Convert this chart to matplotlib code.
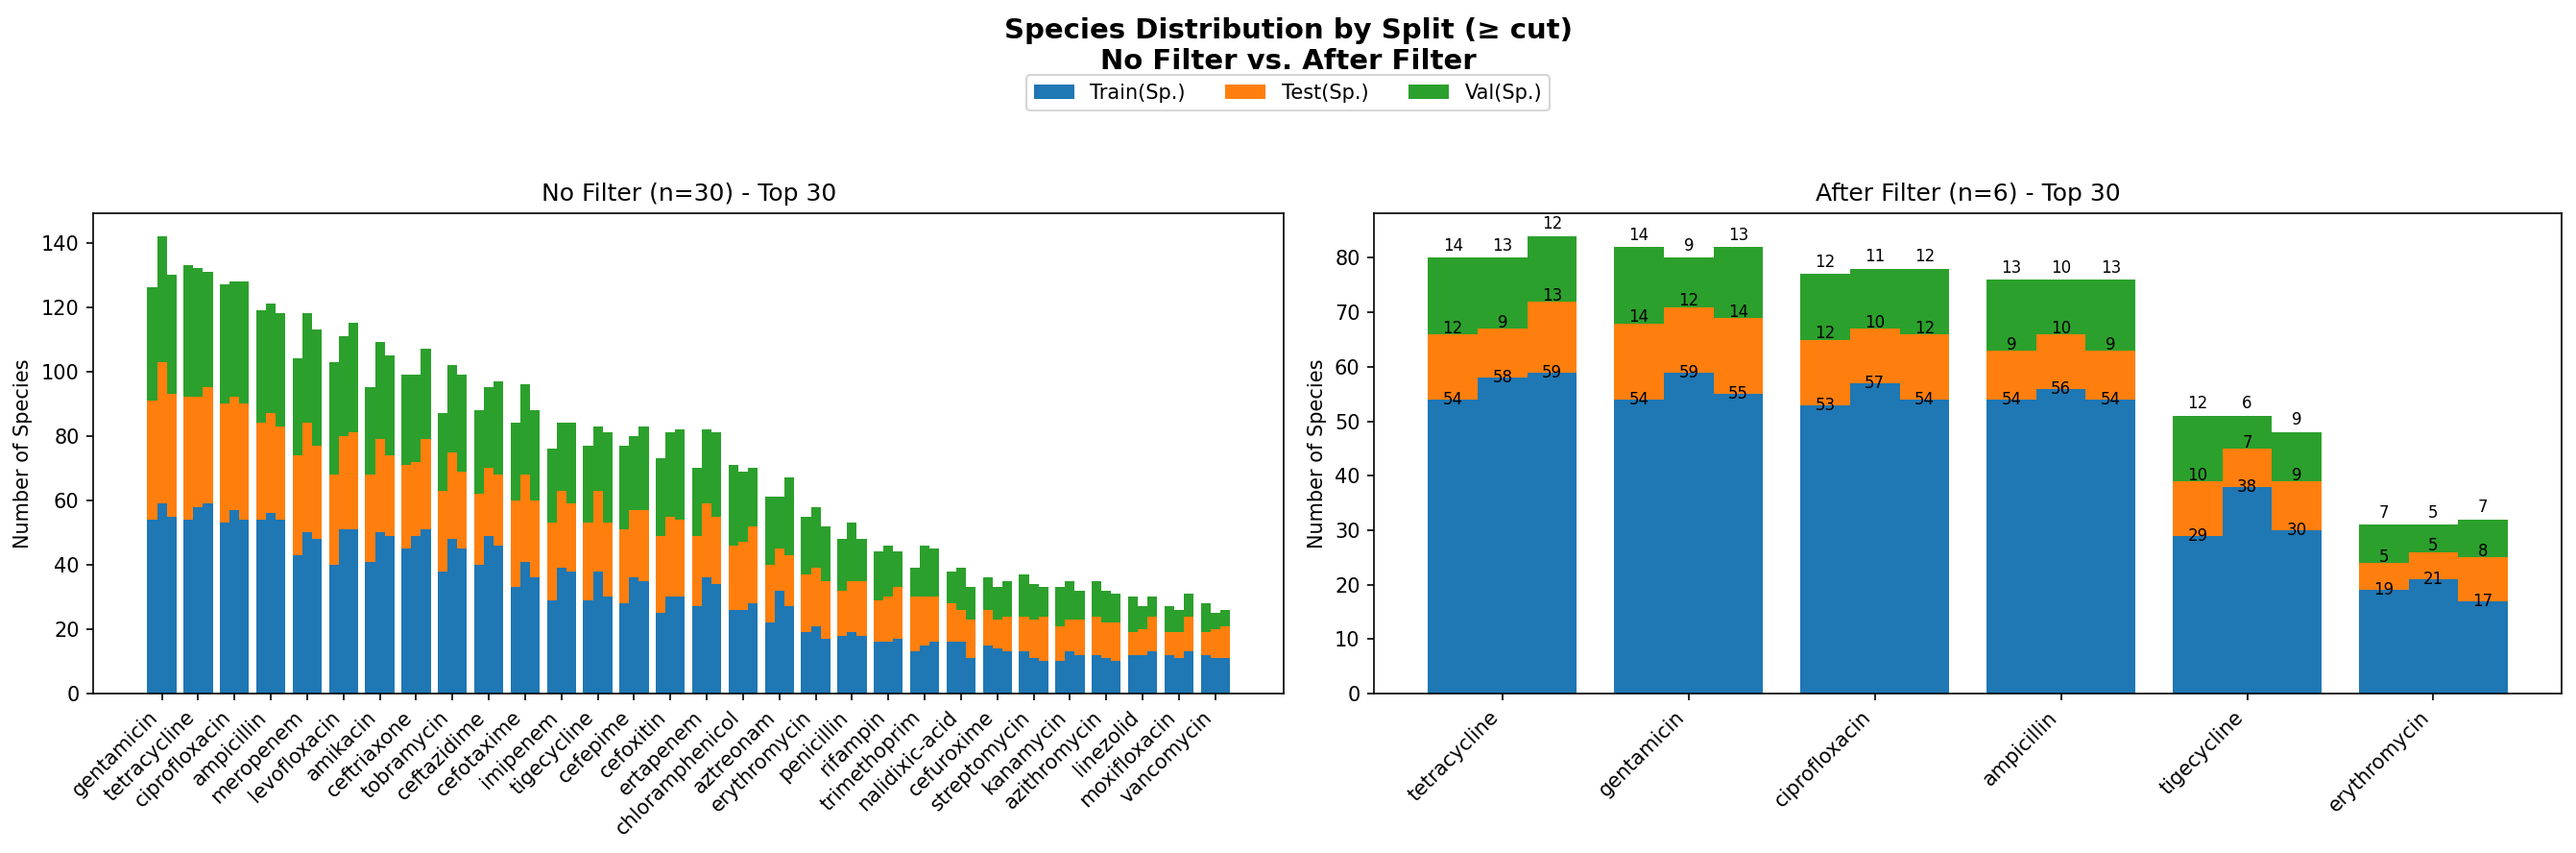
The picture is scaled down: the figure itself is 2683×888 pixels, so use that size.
import numpy as np
import matplotlib
matplotlib.use("Agg")
import matplotlib.pyplot as plt

# --- No Filter panel: 30 antibiotics, three split runs each ---
nf_labels = ["gentamicin", "tetracycline", "ciprofloxacin", "ampicillin", "meropenem",
             "levofloxacin", "amikacin", "ceftriaxone", "tobramycin", "ceftazidime",
             "cefotaxime", "imipenem", "tigecycline", "cefepime", "cefoxitin",
             "ertapenem", "chloramphenicol", "aztreonam", "erythromycin", "penicillin",
             "rifampin", "trimethoprim", "nalidixic-acid", "cefuroxime", "streptomycin",
             "kanamycin", "azithromycin", "linezolid", "moxifloxacin", "vancomycin"]

nf_train = [[54, 59, 55], [54, 58, 59], [53, 57, 54], [54, 56, 54], [43, 50, 48],
            [40, 51, 51], [41, 50, 49], [45, 49, 51], [38, 48, 45], [40, 49, 46],
            [33, 41, 36], [29, 39, 38], [29, 38, 30], [28, 36, 35], [25, 30, 30],
            [27, 36, 34], [26, 26, 28], [22, 32, 27], [19, 21, 17], [18, 19, 18],
            [16, 16, 17], [13, 15, 16], [16, 16, 11], [15, 14, 13], [13, 11, 10],
            [10, 13, 12], [12, 11, 10], [12, 12, 13], [12, 11, 13], [12, 11, 11]]

nf_test = [[37, 44, 38], [38, 34, 36], [37, 35, 36], [30, 31, 29], [31, 34, 29],
           [28, 29, 30], [27, 29, 25], [26, 23, 28], [25, 27, 24], [22, 21, 22],
           [27, 27, 24], [24, 24, 21], [24, 25, 23], [23, 21, 22], [24, 25, 24],
           [22, 23, 21], [20, 21, 24], [18, 13, 16], [18, 18, 18], [14, 16, 17],
           [13, 14, 16], [17, 15, 14], [12, 10, 12], [11, 9, 11], [11, 12, 14],
           [11, 10, 11], [12, 11, 12], [7, 8, 11], [7, 8, 11], [7, 9, 10]]

nf_val = [[35, 39, 37], [41, 40, 36], [37, 36, 38], [35, 34, 35], [30, 34, 36],
          [35, 31, 34], [27, 30, 31], [28, 27, 28], [24, 27, 30], [26, 25, 29],
          [24, 28, 28], [23, 21, 25], [24, 20, 28], [26, 23, 26], [24, 26, 28],
          [21, 23, 26], [25, 22, 18], [21, 16, 24], [18, 19, 17], [16, 18, 13],
          [15, 16, 11], [9, 16, 15], [10, 13, 10], [10, 10, 11], [13, 11, 9],
          [12, 12, 9], [11, 10, 9], [11, 7, 6], [8, 7, 7], [9, 5, 5]]

# --- After Filter panel: 6 antibiotics ---
af_labels = ["tetracycline", "gentamicin", "ciprofloxacin", "ampicillin",
             "tigecycline", "erythromycin"]
af_train = [[54, 58, 59], [54, 59, 55], [53, 57, 54], [54, 56, 54], [29, 38, 30], [19, 21, 17]]
af_test = [[12, 9, 13], [14, 12, 14], [12, 10, 12], [9, 10, 9], [10, 7, 9], [5, 5, 8]]
af_val = [[14, 13, 12], [14, 9, 13], [12, 11, 12], [13, 10, 13], [12, 6, 9], [7, 5, 7]]

split_names = ["Train(Sp.)", "Test(Sp.)", "Val(Sp.)"]
colors = ["#1f77b4", "#ff7f0e", "#2ca02c"]


def draw_panel(ax, labels, train, test, val, title, show_values=False):
    parts = [np.array(train), np.array(test), np.array(val)]
    idx = np.arange(len(labels))
    w = 0.8 / 3
    for j in range(3):
        x = idx + (j - 1) * w
        bottom = np.zeros(len(labels))
        for k, part in enumerate(parts):
            vals = part[:, j]
            ax.bar(x, vals, w, bottom=bottom, color=colors[k],
                   label=split_names[k] if j == 0 else None)
            if show_values:
                for xi, b, v in zip(x, bottom, vals):
                    ax.annotate(str(v), (xi, b + v), xytext=(0, 3 * k),
                                textcoords="offset points", ha="center",
                                va="center", fontsize=8)
            bottom = bottom + vals
    ax.set_xticks(idx)
    ax.set_xticklabels(labels, rotation=45, ha="right")
    ax.set_ylabel("Number of Species")
    ax.set_title(title)


fig = plt.figure(figsize=(2683 / 150, 888 / 150), dpi=150)
ax1 = fig.add_axes([0.0362, 0.1869, 0.4622, 0.5631])
ax2 = fig.add_axes([0.5334, 0.1869, 0.4611, 0.5631])

draw_panel(ax1, nf_labels, nf_train, nf_test, nf_val, "No Filter (n=30) - Top 30")
draw_panel(ax2, af_labels, af_train, af_test, af_val, "After Filter (n=6) - Top 30",
           show_values=True)

fig.suptitle("Species Distribution by Split (≥ cut)\nNo Filter vs. After Filter",
             fontsize=14, fontweight="bold")
handles, labs = ax1.get_legend_handles_labels()
fig.legend(handles, labs, loc="center", bbox_to_anchor=(0.5, 0.891), ncol=3)

fig.savefig("out.png", dpi=150)
